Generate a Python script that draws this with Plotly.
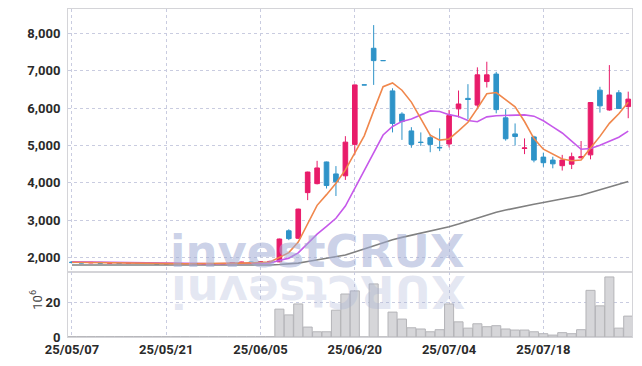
import plotly.graph_objects as go

dates = ["25/05/07","25/05/08","25/05/09","25/05/12","25/05/13","25/05/14","25/05/15","25/05/16","25/05/19","25/05/20",
         "25/05/21","25/05/22","25/05/23","25/05/26","25/05/27","25/05/28","25/05/29","25/05/30","25/06/02","25/06/04",
         "25/06/05","25/06/09","25/06/10","25/06/11","25/06/12","25/06/13","25/06/16","25/06/17","25/06/18","25/06/19",
         "25/06/20","25/06/23","25/06/24","25/06/25","25/06/26","25/06/27","25/06/30","25/07/01","25/07/02","25/07/03",
         "25/07/04","25/07/07","25/07/08","25/07/09","25/07/10","25/07/11","25/07/14","25/07/15","25/07/16","25/07/17",
         "25/07/18","25/07/21","25/07/22","25/07/23","25/07/24","25/07/25","25/07/28","25/07/29","25/07/30","25/07/31"]

open_ = [1885,1870,1860,1875,1850,1870,1850,1860,1845,1850,
         1830,1845,1840,1845,1830,1840,1835,1845,1870,1880,
         1875,1890,1890,2720,2520,3740,3980,4560,4240,4190,
         5030,6621,7600,7271,6460,5840,5390,5090,5210,4950,
         5040,5980,6260,6080,6710,6910,5740,5310,4920,5230,
         4690,4610,4460,4500,4670,4750,6480,5950,6410,6040]
high_ = [1900,1885,1880,1880,1875,1875,1870,1865,1860,1855,
         1850,1855,1850,1850,1845,1850,1850,1880,1890,1890,
         1900,1920,2510,2760,3310,4300,4590,4570,4450,5250,
         6630,6621,8220,7271,6530,5890,5490,5350,5300,5460,
         5950,6470,6640,7090,7240,6970,5970,5590,5190,5260,
         4810,4700,4750,4810,5120,6160,6570,7150,6480,6440]
low_ = [1860,1855,1855,1850,1845,1845,1840,1840,1835,1825,
        1825,1830,1830,1825,1825,1830,1830,1840,1860,1865,
        1870,1880,1880,2470,2500,3540,3960,3850,3650,4080,
        4750,6620,6620,7270,5350,5150,4940,4990,4820,4850,
        4950,5750,5700,5970,6550,5860,5130,5000,4770,4550,
        4430,4390,4330,4370,4660,4630,5880,5930,5980,5730]
close_ = [1870,1860,1875,1855,1870,1850,1860,1845,1850,1830,
          1845,1840,1845,1830,1840,1835,1845,1870,1880,1875,
          1890,1900,2500,2510,3300,4290,4400,3930,4030,5090,
          6620,6620,7270,7270,5590,5640,5030,5080,5030,4940,
          5800,6110,6230,6890,6890,5960,5180,5240,4935,4610,
          4540,4510,4610,4700,4700,6150,6060,6350,5990,6240]

ma5 = [1880,1875,1870,1866,1866,1862,1858,1856,1855,1847,
       1846,1842,1840,1840,1840,1838,1839,1844,1854,1861,
       1872,1884,2009,2135,2420,2900,3400,3686,3990,4348,
       4814,5258,5926,6574,6674,6478,6160,5722,5274,5144,
       5176,5392,5622,5994,6384,6416,6230,6032,5641,5185,
       4901,4767,4641,4594,4612,4934,5244,5592,5850,6158]
ma10 = [1890,1885,1880,1876,1872,1868,1864,1860,1858,1856,
        1852,1850,1848,1845,1842,1840,1840,1842,1846,1849,
        1853,1860,1925,1988,2130,2375,2630,2837,3055,3380,
        3855,4330,4805,5280,5510,5645,5710,5825,5925,5910,
        5825,5775,5670,5635,5765,5795,5810,5825,5820,5785,
        5660,5500,5335,5120,4900,4920,5005,5115,5220,5385]
ma60 = [1805,1804,1803,1802,1801,1800,1800,1799,1799,1798,
        1798,1798,1797,1797,1797,1797,1797,1798,1800,1801,
        1802,1804,1817,1829,1856,1898,1941,1978,2014,2070,
        2152,2233,2325,2416,2480,2544,2599,2654,2709,2761,
        2829,2901,2976,3062,3147,3216,3273,3331,3383,3431,
        3478,3523,3571,3621,3670,3744,3816,3892,3963,4035]

volume = [0.2,0.2,0.2,0.2,0.2,0.2,0.2,0.2,0.2,0.2,
          0.2,0.2,0.2,0.2,0.2,0.2,0.2,0.2,0.2,0.2,
          0.2,0.2,16,12.7,19,5.7,3,3,15.4,24.7,
          26.5,0,30.5,0,14.3,10.3,5.3,4.6,3.0,4.2,
          19,8.7,5.1,7.6,5.9,6.5,4.6,4.0,4.0,3.0,
          1.9,1.1,2.5,1.9,4.2,26.8,17.9,34.5,5.1,12]

price_ticks = [2000, 3000, 4000, 5000, 6000, 7000, 8000]
vol_ticks = [0, 20]
date_ticks = ["25/05/07", "25/05/21", "25/06/05", "25/06/20", "25/07/04", "25/07/18"]

FONT = "Roboto, Liberation Sans, sans-serif"
WM_FONT = "DejaVu Sans, Liberation Sans, sans-serif"
RED = "#e81c6a"
BLUE = "#2e93c8"
GRID = "#c9cce0"
FRAME = "#d4d4d8"

fig = go.Figure()

fig.add_trace(go.Bar(x=dates, y=volume, xaxis="x2", yaxis="y2",
                     marker=dict(color="#d6d6d9", line=dict(color="#b4b4b8", width=1)),
                     hoverinfo="skip", showlegend=False))

fig.add_trace(go.Scatter(x=dates, y=ma60, mode="lines", line=dict(color="#808080", width=1.6),
                         hoverinfo="skip", showlegend=False))
fig.add_trace(go.Candlestick(x=dates, open=open_, high=high_, low=low_, close=close_,
                             increasing=dict(line=dict(color=RED, width=1), fillcolor=RED),
                             decreasing=dict(line=dict(color=BLUE, width=1), fillcolor=BLUE),
                             hoverinfo="skip", showlegend=False))
fig.add_trace(go.Scatter(x=dates, y=ma10, mode="lines", line=dict(color="#c659ea", width=1.6),
                         hoverinfo="skip", showlegend=False))
fig.add_trace(go.Scatter(x=dates, y=ma5, mode="lines", line=dict(color="#f0874c", width=1.6),
                         hoverinfo="skip", showlegend=False))

axis_common = dict(showgrid=True, gridcolor=GRID, griddash="dot", gridwidth=1, automargin=False,
                   showline=True, mirror=True, linecolor=FRAME, linewidth=1, zeroline=False,
                   tickfont=dict(family=FONT, size=13, color="#2a2a2a", weight="bold"))

# page body has an 8px default margin, so the figure is sized/offset to compensate
fig.update_layout(
    width=634, height=358,
    margin=dict(l=60, r=10, t=1, b=29, autoexpand=False),
    paper_bgcolor="white", plot_bgcolor="white",
    showlegend=False, boxgap=0.3, bargap=0.04,
    xaxis=dict(type="category", range=[-0.42, 59.4], anchor="y", domain=[0, 1],
               tickvals=date_ticks, showticklabels=False, ticks="",
               rangeslider=dict(visible=False), **axis_common),
    yaxis=dict(domain=[0.199, 1], range=[1625, 8650], tickvals=price_ticks, tickformat=",",
               anchor="x", ticks="", ticklabelstandoff=4, **axis_common),
    xaxis2=dict(type="category", range=[-0.42, 59.4], anchor="y2", matches="x", domain=[0, 1],
                tickvals=date_ticks, ticks="", ticklabelstandoff=0, **axis_common),
    yaxis2=dict(domain=[0, 0.199], range=[0, 37.5], tickvals=vol_ticks, anchor="x2",
                ticks="", ticklabelstandoff=4, **axis_common),
)

fig.add_annotation(text="investCRUX", xref="paper", yref="paper", x=0.443, y=0.261,
                   xanchor="center", yanchor="middle", showarrow=False,
                   font=dict(family=WM_FONT, size=45,
                             color="rgba(160,172,212,0.55)", weight="bold"))
fig.add_annotation(text="XURCtsevni", xref="paper", yref="paper", x=0.443, y=0.138,
                   xanchor="center", yanchor="middle", showarrow=False, textangle=180,
                   font=dict(family=WM_FONT, size=45,
                             color="rgba(160,172,212,0.28)", weight="bold"))
fig.add_annotation(text="10<sup>6</sup>", xref="paper", yref="paper", x=-0.056, y=0.115,
                   xanchor="center", yanchor="middle", showarrow=False, textangle=-90,
                   font=dict(family=FONT, size=13, color="#444444"))

fig.write_html("out.html")
